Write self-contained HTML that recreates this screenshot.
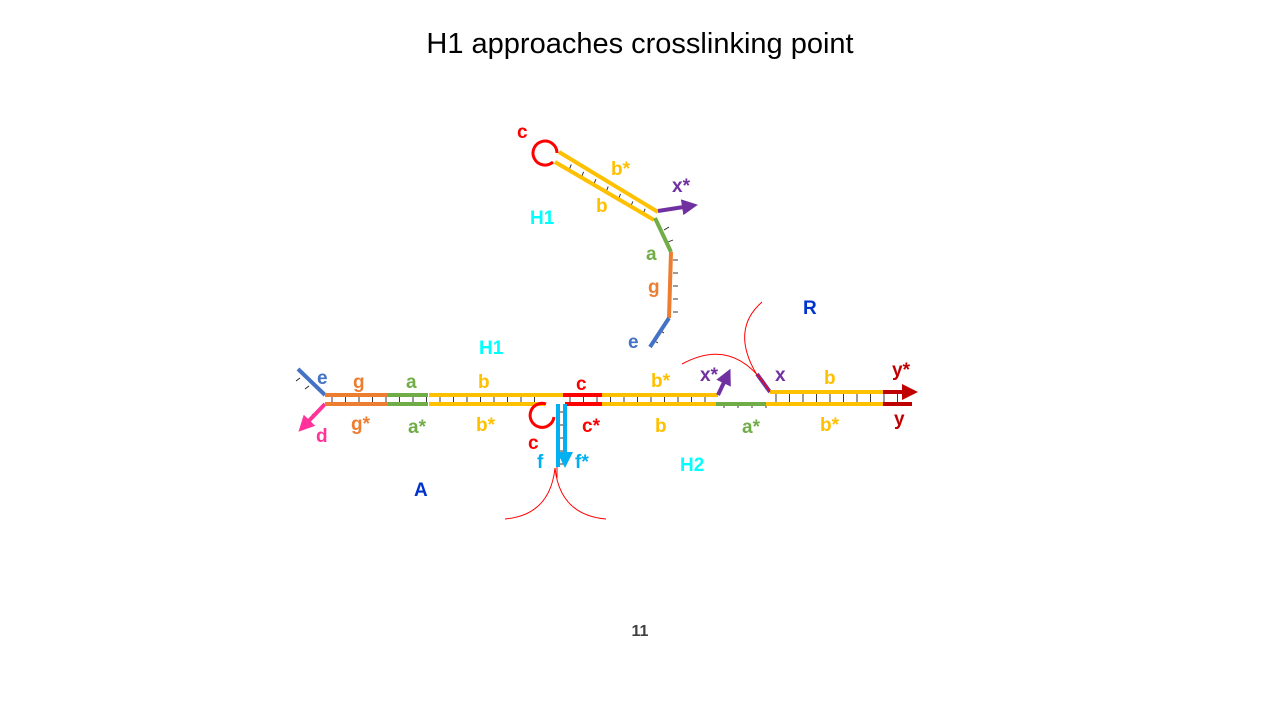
<!DOCTYPE html>
<html><head><meta charset="utf-8"><style>
body{margin:0;background:#fff;width:1280px;height:720px;overflow:hidden}
svg text{font-family:"Liberation Sans",sans-serif;font-weight:bold;font-size:19px}
</style></head><body>
<svg width="1280" height="720">
<defs>
<marker id="ap" markerWidth="4" markerHeight="4" refX="2" refY="2" orient="auto" markerUnits="strokeWidth"><path d="M0,0L4,2L0,4z" fill="#7030a0"/></marker>
<marker id="ad" markerWidth="4" markerHeight="4" refX="2" refY="2" orient="auto" markerUnits="strokeWidth"><path d="M0,0L4,2L0,4z" fill="#c00000"/></marker>
<marker id="ak" markerWidth="4" markerHeight="4" refX="2" refY="2" orient="auto" markerUnits="strokeWidth"><path d="M0,0L4,2L0,4z" fill="#ff3399"/></marker>
<marker id="ab" markerWidth="4" markerHeight="4" refX="2" refY="2" orient="auto" markerUnits="strokeWidth"><path d="M0,0L4,2L0,4z" fill="#00b0f0"/></marker>
</defs>
<text x="640" y="53" text-anchor="middle" style="font-weight:normal;font-size:29px">H1 approaches crosslinking point</text>
<text x="640" y="636" text-anchor="middle" style="font-size:16px;fill:#404040">11</text>
<g id="ticks" stroke="#222" stroke-width="0.9"></g>
<g fill="none" stroke-width="4">
<line x1="298" y1="369" x2="325" y2="395" stroke="#4472c4"/>
<line x1="325" y1="404" x2="304" y2="426" stroke="#ff3399" marker-end="url(#ak)"/>
<line x1="325" y1="395" x2="388" y2="395" stroke="#ed7d31"/>
<line x1="325" y1="404" x2="388" y2="404" stroke="#ed7d31"/>
<line x1="388" y1="395" x2="428" y2="395" stroke="#70ad47"/>
<line x1="388" y1="404" x2="428" y2="404" stroke="#70ad47"/>
<line x1="429" y1="395" x2="563" y2="395" stroke="#ffc000"/>
<line x1="429" y1="404" x2="545" y2="404" stroke="#ffc000"/>
<line x1="563" y1="395" x2="602" y2="395" stroke="#ff0000"/>
<line x1="565" y1="404" x2="602" y2="404" stroke="#ff0000"/>
<line x1="602" y1="395" x2="718" y2="395" stroke="#ffc000"/>
<line x1="602" y1="404" x2="716" y2="404" stroke="#ffc000"/>
<line x1="718" y1="395" x2="727" y2="376" stroke="#7030a0" marker-end="url(#ap)"/>
<line x1="757" y1="374" x2="770" y2="392" stroke="#7030a0"/>
<line x1="770" y1="392" x2="884" y2="392" stroke="#ffc000"/>
<line x1="716" y1="404" x2="766" y2="404" stroke="#70ad47"/>
<line x1="766" y1="404" x2="883" y2="404" stroke="#ffc000"/>
<line x1="883" y1="392" x2="910" y2="392" stroke="#c00000" marker-end="url(#ad)"/>
<line x1="883" y1="404" x2="912" y2="404" stroke="#c00000"/>
<path d="M546,404 A12,12 0 1 0 554,417" stroke="#ff0000" stroke-width="3"/>
<line x1="558" y1="404" x2="558" y2="467" stroke="#00b0f0"/>
<line x1="565" y1="404" x2="565" y2="460" stroke="#00b0f0" marker-end="url(#ab)"/>
</g>
<g fill="none" stroke-width="4">
<path d="M557,153 A12,12 0 1 0 553,162" stroke="#ff0000" stroke-width="3"/>
<line x1="559" y1="152" x2="658" y2="212" stroke="#ffc000"/>
<line x1="555" y1="162" x2="654" y2="220" stroke="#ffc000"/>
<line x1="658" y1="211" x2="690" y2="206" stroke="#7030a0" marker-end="url(#ap)"/>
<line x1="655" y1="218" x2="671" y2="252" stroke="#70ad47"/>
<line x1="671" y1="252" x2="669" y2="318" stroke="#ed7d31"/>
<line x1="669" y1="318" x2="650" y2="347" stroke="#4472c4"/>
</g>
<g fill="none" stroke="#ff0000" stroke-width="1">
<path d="M555,468 Q550,515 505,519"/>
<path d="M555,468 Q560,515 606,519"/>
<path d="M682,364 Q735,335 770,392"/>
<path d="M762,302 Q730,330 757,375"/>
<line x1="557" y1="467" x2="557" y2="478"/>
</g>
<g>
<text x="517" y="138" fill="#ff0000">c</text>
<text x="611" y="175" fill="#ffc000">b*</text>
<text x="596" y="212" fill="#ffc000">b</text>
<text x="672" y="192" fill="#7030a0">x*</text>
<text x="530" y="224" fill="#00ffff">H1</text>
<text x="646" y="260" fill="#70ad47">a</text>
<text x="648" y="293" fill="#ed7d31">g</text>
<text x="628" y="348" fill="#4472c4">e</text>
<text x="803" y="314" fill="#0033cc">R</text>
<text x="479" y="354" fill="#00ffff">H1</text>
<text x="317" y="384" fill="#4472c4">e</text>
<text x="353" y="388" fill="#ed7d31">g</text>
<text x="406" y="388" fill="#70ad47">a</text>
<text x="478" y="388" fill="#ffc000">b</text>
<text x="576" y="390" fill="#ff0000">c</text>
<text x="651" y="387" fill="#ffc000">b*</text>
<text x="700" y="381" fill="#7030a0">x*</text>
<text x="775" y="381" fill="#7030a0">x</text>
<text x="824" y="384" fill="#ffc000">b</text>
<text x="892" y="376" fill="#c00000">y*</text>
<text x="894" y="425" fill="#c00000">y</text>
<text x="316" y="442" fill="#ff3399">d</text>
<text x="351" y="430" fill="#ed7d31">g*</text>
<text x="408" y="433" fill="#70ad47">a*</text>
<text x="476" y="431" fill="#ffc000">b*</text>
<text x="582" y="432" fill="#ff0000">c*</text>
<text x="655" y="432" fill="#ffc000">b</text>
<text x="742" y="433" fill="#70ad47">a*</text>
<text x="820" y="431" fill="#ffc000">b*</text>
<text x="528" y="449" fill="#ff0000">c</text>
<text x="537" y="468" fill="#00b0f0">f</text>
<text x="575" y="468" fill="#00b0f0">f*</text>
<text x="680" y="471" fill="#00ffff">H2</text>
<text x="414" y="496" fill="#0033cc">A</text>
</g>
</svg>
<script>
var g=document.getElementById('ticks');
function t(x1,y1,x2,y2){var l=document.createElementNS('http://www.w3.org/2000/svg','line');
l.setAttribute('x1',x1);l.setAttribute('y1',y1);l.setAttribute('x2',x2);l.setAttribute('y2',y2);


g.appendChild(l);}
for(var x=332;x<540;x+=13.5)t(x,397,x,402);
for(var x=570;x<715;x+=13.5)t(x,397,x,402);
for(var x=724;x<768;x+=14)t(x,403,x,408);
for(var x=776;x<910;x+=13.5)t(x,394,x,402);
for(var y=412;y<465;y+=13)t(560,y,564,y);
for(var i=1;i<8;i++){var fx=559+i*12.3,fy=157+i*7.4;t(fx,fy,fx-2,fy+5);}
for(var y=260;y<318;y+=13)t(673,y,678,y);
t(664,230,669,227);t(668,242,673,240);t(659,330,664,333);t(653,340,658,343);
t(300,378,296,381);t(309,386,305,389);t(316,412,312,415);
</script>
</body></html>
